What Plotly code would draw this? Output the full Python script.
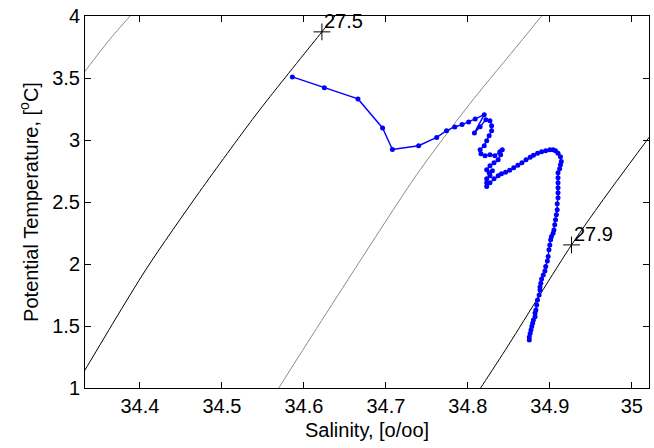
import plotly.graph_objects as go

# Potential temperature / salinity profile
sal = [34.586, 34.625, 34.666, 34.696, 34.708, 34.740, 34.762, 34.774, 34.784, 34.793,
       34.801, 34.809, 34.820,
       34.808, 34.815, 34.822, 34.827, 34.829, 34.829, 34.826, 34.823, 34.820, 34.815,
       34.816, 34.821, 34.827, 34.833, 34.839, 34.842, 34.840, 34.837, 34.832, 34.827,
       34.823, 34.826, 34.830, 34.827, 34.823, 34.823, 34.823,
       34.827, 34.832, 34.837, 34.841, 34.846, 34.851, 34.856, 34.861, 34.866, 34.871,
       34.876, 34.880, 34.885, 34.890, 34.895, 34.900, 34.904, 34.907, 34.910, 34.913,
       34.914, 34.913, 34.912, 34.910, 34.910, 34.910, 34.910, 34.910, 34.910,
       34.909, 34.909, 34.908, 34.907, 34.906, 34.905, 34.904, 34.902, 34.901, 34.900,
       34.899, 34.898, 34.897, 34.895, 34.894, 34.892, 34.890, 34.889, 34.888, 34.888,
       34.887, 34.885, 34.884, 34.883, 34.882, 34.882, 34.880, 34.879, 34.878, 34.877,
       34.876, 34.875, 34.875]
theta = [3.509, 3.422, 3.331, 3.097, 2.924, 2.954, 3.021, 3.075, 3.105, 3.124,
         3.145, 3.170, 3.204,
         3.057, 3.107, 3.164, 3.156, 3.115, 3.075, 3.035, 2.994, 2.954, 2.922,
         2.889, 2.873, 2.881, 2.873, 2.905, 2.922, 2.881, 2.841, 2.817, 2.792,
         2.760, 2.736, 2.752, 2.712, 2.687, 2.655, 2.625,
         2.655, 2.687, 2.712, 2.728, 2.740, 2.756, 2.776, 2.796, 2.817, 2.841,
         2.861, 2.877, 2.893, 2.905, 2.914, 2.922, 2.922, 2.914, 2.893, 2.865,
         2.827, 2.800, 2.768, 2.736, 2.695, 2.655, 2.615, 2.574, 2.534,
         2.485, 2.437, 2.397, 2.356, 2.316, 2.275, 2.247, 2.221, 2.195, 2.154,
         2.114, 2.060, 2.025, 1.979, 1.944, 1.912, 1.880, 1.845, 1.815, 1.791,
         1.750, 1.710, 1.670, 1.629, 1.605, 1.575, 1.548, 1.522, 1.496, 1.468,
         1.439, 1.411, 1.387]

# Isopycnal (sigma-theta) contour lines
s273 = [34.320, 34.333, 34.363, 34.388, 34.400]
t273 = [3.44, 3.554, 3.810, 4.000, 4.090]
s275 = [34.320, 34.333, 34.407, 34.473, 34.537, 34.559, 34.622, 34.638, 34.650]
t275 = [1.000, 1.145, 1.952, 2.585, 3.164, 3.352, 3.872, 4.000, 4.090]
s277 = [34.560, 34.5695, 34.7333, 34.7659, 34.8065, 34.8634, 34.890, 34.900]
t277 = [0.890, 1.000, 2.679, 2.976, 3.326, 3.784, 4.000, 4.080]
s279 = [34.806, 34.8156, 34.8463, 34.9265, 34.965, 35.030]
t279 = [0.900, 1.000, 1.312, 2.154, 2.518, 3.100]

label_s = [34.622, 34.9265]
label_t = [3.872, 2.154]
label_txt = ["27.5", "27.9"]

xticks = [34.4, 34.5, 34.6, 34.7, 34.8, 34.9, 35.0]
xticktext = ["34.4", "34.5", "34.6", "34.7", "34.8", "34.9", "35"]
yticks = [1, 1.5, 2, 2.5, 3, 3.5, 4]
yticktext = ["1", "1.5", "2", "2.5", "3", "3.5", "4"]

GRAY = "#8a8a8a"
FONT = "Liberation Sans, Arial, Helvetica, sans-serif"

fig = go.Figure()
for xs, ys, col in [(s273, t273, GRAY), (s275, t275, "black"), (s277, t277, GRAY), (s279, t279, "black")]:
    fig.add_trace(go.Scatter(x=xs, y=ys, mode="lines",
                             line=dict(color=col, width=1, shape="spline", smoothing=0.8),
                             hoverinfo="skip"))
fig.add_trace(go.Scatter(x=label_s, y=label_t, mode="markers",
                         marker=dict(symbol="cross-thin", size=12, line=dict(color="black", width=1)),
                         hoverinfo="skip"))
fig.add_trace(go.Scatter(x=sal, y=theta, mode="lines+markers",
                         line=dict(color="#0000ff", width=1.4),
                         marker=dict(color="#0000ff", size=5)))

for s, t, txt in zip(label_s, label_t, label_txt):
    fig.add_annotation(x=s, y=t, text=txt, showarrow=False, xanchor="left", yanchor="bottom",
                       xshift=0, yshift=-2, font=dict(size=20, color="black", family=FONT))

axis_common = dict(showline=True, linecolor="black", linewidth=1, mirror="allticks",
                   ticks="inside", ticklen=6, tickcolor="black", showgrid=False, zeroline=False,
                   tickfont=dict(size=20, color="black", family=FONT))

fig.update_xaxes(range=[34.333, 35.021], tickvals=xticks, ticktext=xticktext,
                 title=dict(text="Salinity, [o/oo]", font=dict(size=20, color="black", family=FONT), standoff=6),
                 **axis_common)
fig.update_yaxes(range=[1, 4], tickvals=yticks, ticktext=yticktext,
                 title=dict(text="Potential Temperature, [<sup>o</sup>C]", font=dict(size=20, color="black", family=FONT), standoff=8),
                 **axis_common)

fig.update_layout(width=654, height=448, margin=dict(l=85, r=5, t=16, b=60, autoexpand=False),
                  plot_bgcolor="white", paper_bgcolor="white", showlegend=False,
                  font=dict(family=FONT, color="black"))

fig.write_html("out.html")
